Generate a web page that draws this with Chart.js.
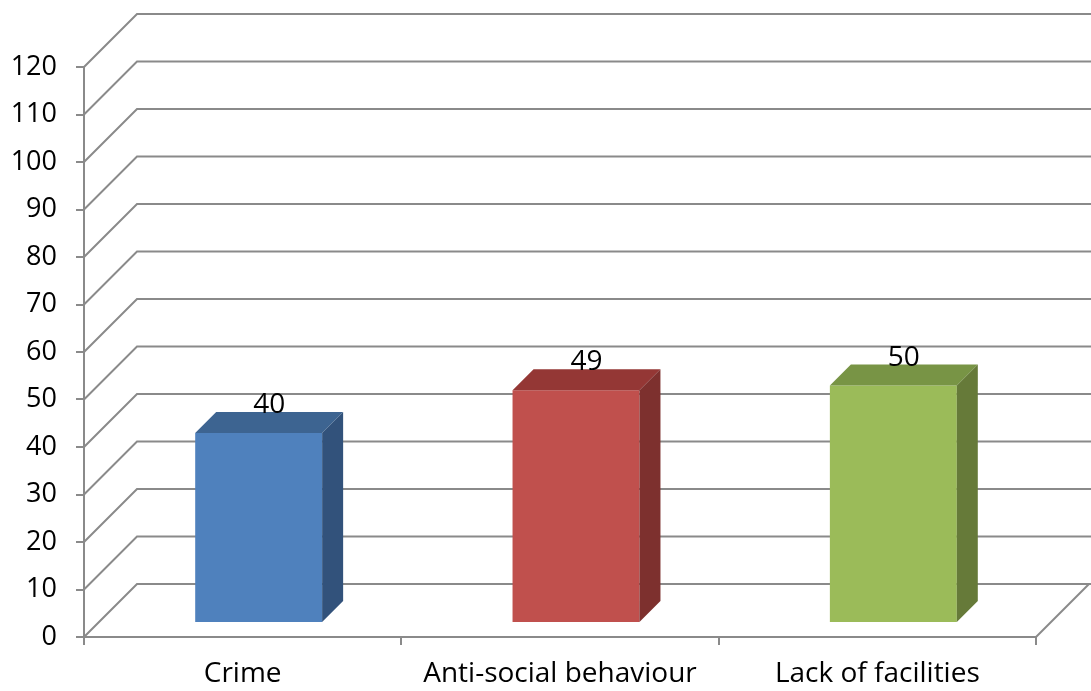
<!DOCTYPE html>
<html>
<head>
<meta charset="utf-8">
<script src="https://cdn.jsdelivr.net/npm/chart.js@4/dist/chart.umd.min.js"></script>
<style>
    body { margin: 0; background: #fff; }
    #wrap { width: 1091px; height: 691px; }
</style>
</head>
<body>
<div id="wrap"><canvas id="chart" width="1091" height="691"></canvas></div>
<script>
// Data
const categories = ['Crime', 'Anti-social behaviour', 'Lack of facilities'];
const values = [40, 49, 50];
const yTicks = [0, 10, 20, 30, 40, 50, 60, 70, 80, 90, 100, 110, 120];

// Colours (front, top, side)
const frontColors = ['#4f81bd', '#c0504d', '#9bbb59'];
const topColors = ['#3d6491', '#943735', '#789445'];
const sideColors = ['#32527b', '#7d302e', '#667a39'];

const gridColor = '#8a8a8a';
const wallDepth = 53;   // back wall offset (45 deg)
const barDepth = 21;    // depth of each bar
const barShiftX = 16;   // bars sit a bit behind the front plane
const barShiftY = 14;

const font = "'Open Sans', 'DejaVu Sans', sans-serif";

const wallPlugin = {
    id: 'wall3d',
    beforeDatasetsDraw(chart) {
        const ctx = chart.ctx;
        const area = chart.chartArea;
        const y = chart.scales.y;
        ctx.save();
        ctx.strokeStyle = gridColor;
        ctx.lineWidth = 2;
        yTicks.forEach(v => {
            const py = y.getPixelForValue(v);
            ctx.beginPath();
            ctx.moveTo(area.left, py);
            ctx.lineTo(area.left + wallDepth, py - wallDepth);
            ctx.lineTo(chart.width + 5, py - wallDepth);
            ctx.stroke();
        });
        // right edge of floor
        ctx.beginPath();
        ctx.moveTo(area.right, area.bottom);
        ctx.lineTo(area.right + wallDepth, area.bottom - wallDepth);
        ctx.stroke();
        ctx.restore();
    },
    afterDatasetsDraw(chart) {
        const ctx = chart.ctx;
        const meta = chart.getDatasetMeta(0);
        ctx.save();
        meta.data.forEach((bar, i) => {
            const p = bar.getProps(['x', 'y', 'base', 'width'], true);
            const L = p.x - p.width / 2 + barShiftX;
            const R = p.x + p.width / 2 + barShiftX;
            const T = p.y - barShiftY;
            const B = p.base - barShiftY;
            const d = barDepth;

            ctx.fillStyle = frontColors[i];
            ctx.fillRect(L, T, R - L, B - T);

            ctx.fillStyle = topColors[i];
            ctx.beginPath();
            ctx.moveTo(L, T);
            ctx.lineTo(L + d, T - d);
            ctx.lineTo(R + d, T - d);
            ctx.lineTo(R, T);
            ctx.closePath();
            ctx.fill();

            ctx.fillStyle = sideColors[i];
            ctx.beginPath();
            ctx.moveTo(R, T);
            ctx.lineTo(R + d, T - d);
            ctx.lineTo(R + d, B - d);
            ctx.lineTo(R, B);
            ctx.closePath();
            ctx.fill();

            // value label
            ctx.fillStyle = '#000';
            ctx.font = '28px ' + font;
            ctx.textAlign = 'center';
            ctx.textBaseline = 'alphabetic';
            ctx.fillText(String(values[i]), (L + R) / 2 + d / 2, T - d + 1);
        });
        ctx.restore();
    }
};

const ctx = document.getElementById('chart').getContext('2d');
new Chart(ctx, {
    type: 'bar',
    data: {
        labels: categories,
        datasets: [{
            data: values,
            backgroundColor: 'rgba(0,0,0,0)',
            borderWidth: 0,
            categoryPercentage: 1,
            barPercentage: 0.4
        }]
    },
    options: {
        responsive: false,
        animation: false,
        layout: { padding: { top: 67, right: 55, bottom: 0, left: 0 } },
        plugins: {
            legend: { display: false },
            tooltip: { enabled: false }
        },
        scales: {
            x: {
                afterFit: s => { s.height = 54; },
                grid: {
                    offset: true,
                    drawOnChartArea: false,
                    drawTicks: true,
                    tickLength: 8,
                    color: gridColor,
                    lineWidth: 2
                },
                border: { display: true, color: gridColor, width: 2 },
                ticks: {
                    color: '#000',
                    padding: 12,
                    font: { family: font, size: 28 }
                }
            },
            y: {
                min: 0,
                max: 120,
                afterFit: s => { s.width = 84; },
                afterBuildTicks: s => { s.ticks = yTicks.map(v => ({ value: v })); },
                grid: {
                    drawOnChartArea: false,
                    drawTicks: true,
                    tickLength: 8,
                    color: gridColor,
                    lineWidth: 2
                },
                border: { display: true, color: gridColor, width: 2 },
                ticks: {
                    color: '#000',
                    padding: 19,
                    font: { family: font, size: 27 }
                }
            }
        }
    },
    plugins: [wallPlugin]
});
</script>
</body>
</html>
